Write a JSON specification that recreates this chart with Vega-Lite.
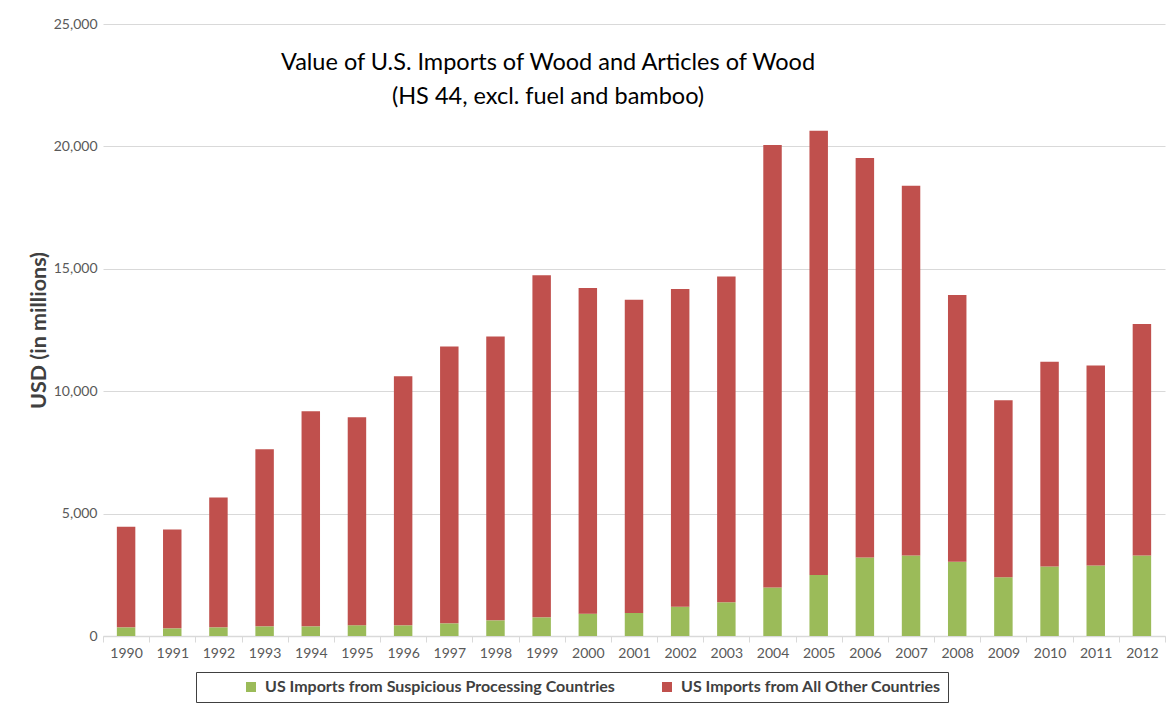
{
  "$schema": "https://vega.github.io/schema/vega-lite/v6.json",
  "width": 1062,
  "height": 612,
  "autosize": "none",
  "padding": {"left": 103, "top": 24, "right": 10, "bottom": 69},
  "background": "white",
  "title": {
    "text": ["Value of U.S. Imports of Wood and Articles of Wood", "(HS 44, excl. fuel and bamboo)"],
    "orient": "top",
    "anchor": "middle",
    "frame": "group",
    "baseline": "top",
    "dx": -86,
    "dy": 95,
    "font": "Lato",
    "fontSize": 23.5,
    "fontWeight": "normal",
    "color": "#000000",
    "lineHeight": 34
  },
  "data": {
    "values": [
      {"year": "1990", "source": "US Imports from Suspicious Processing Countries", "rank": 1, "value": 354},
      {"year": "1990", "source": "US Imports from All Other Countries", "rank": 2, "value": 4106},
      {"year": "1991", "source": "US Imports from Suspicious Processing Countries", "rank": 1, "value": 313},
      {"year": "1991", "source": "US Imports from All Other Countries", "rank": 2, "value": 4042},
      {"year": "1992", "source": "US Imports from Suspicious Processing Countries", "rank": 1, "value": 354},
      {"year": "1992", "source": "US Imports from All Other Countries", "rank": 2, "value": 5306},
      {"year": "1993", "source": "US Imports from Suspicious Processing Countries", "rank": 1, "value": 395},
      {"year": "1993", "source": "US Imports from All Other Countries", "rank": 2, "value": 7230},
      {"year": "1994", "source": "US Imports from Suspicious Processing Countries", "rank": 1, "value": 395},
      {"year": "1994", "source": "US Imports from All Other Countries", "rank": 2, "value": 8785},
      {"year": "1995", "source": "US Imports from Suspicious Processing Countries", "rank": 1, "value": 436},
      {"year": "1995", "source": "US Imports from All Other Countries", "rank": 2, "value": 8499},
      {"year": "1996", "source": "US Imports from Suspicious Processing Countries", "rank": 1, "value": 436},
      {"year": "1996", "source": "US Imports from All Other Countries", "rank": 2, "value": 10174},
      {"year": "1997", "source": "US Imports from Suspicious Processing Countries", "rank": 1, "value": 518},
      {"year": "1997", "source": "US Imports from All Other Countries", "rank": 2, "value": 11307},
      {"year": "1998", "source": "US Imports from Suspicious Processing Countries", "rank": 1, "value": 640},
      {"year": "1998", "source": "US Imports from All Other Countries", "rank": 2, "value": 11590},
      {"year": "1999", "source": "US Imports from Suspicious Processing Countries", "rank": 1, "value": 763},
      {"year": "1999", "source": "US Imports from All Other Countries", "rank": 2, "value": 13977},
      {"year": "2000", "source": "US Imports from Suspicious Processing Countries", "rank": 1, "value": 914},
      {"year": "2000", "source": "US Imports from All Other Countries", "rank": 2, "value": 13306},
      {"year": "2001", "source": "US Imports from Suspicious Processing Countries", "rank": 1, "value": 942},
      {"year": "2001", "source": "US Imports from All Other Countries", "rank": 2, "value": 12798},
      {"year": "2002", "source": "US Imports from Suspicious Processing Countries", "rank": 1, "value": 1195},
      {"year": "2002", "source": "US Imports from All Other Countries", "rank": 2, "value": 12975},
      {"year": "2003", "source": "US Imports from Suspicious Processing Countries", "rank": 1, "value": 1377},
      {"year": "2003", "source": "US Imports from All Other Countries", "rank": 2, "value": 13313},
      {"year": "2004", "source": "US Imports from Suspicious Processing Countries", "rank": 1, "value": 1982},
      {"year": "2004", "source": "US Imports from All Other Countries", "rank": 2, "value": 18078},
      {"year": "2005", "source": "US Imports from Suspicious Processing Countries", "rank": 1, "value": 2488},
      {"year": "2005", "source": "US Imports from All Other Countries", "rank": 2, "value": 18152},
      {"year": "2006", "source": "US Imports from Suspicious Processing Countries", "rank": 1, "value": 3204},
      {"year": "2006", "source": "US Imports from All Other Countries", "rank": 2, "value": 16326},
      {"year": "2007", "source": "US Imports from Suspicious Processing Countries", "rank": 1, "value": 3289},
      {"year": "2007", "source": "US Imports from All Other Countries", "rank": 2, "value": 15101},
      {"year": "2008", "source": "US Imports from Suspicious Processing Countries", "rank": 1, "value": 3036},
      {"year": "2008", "source": "US Imports from All Other Countries", "rank": 2, "value": 10894},
      {"year": "2009", "source": "US Imports from Suspicious Processing Countries", "rank": 1, "value": 2403},
      {"year": "2009", "source": "US Imports from All Other Countries", "rank": 2, "value": 7227},
      {"year": "2010", "source": "US Imports from Suspicious Processing Countries", "rank": 1, "value": 2839},
      {"year": "2010", "source": "US Imports from All Other Countries", "rank": 2, "value": 8366},
      {"year": "2011", "source": "US Imports from Suspicious Processing Countries", "rank": 1, "value": 2881},
      {"year": "2011", "source": "US Imports from All Other Countries", "rank": 2, "value": 8169},
      {"year": "2012", "source": "US Imports from Suspicious Processing Countries", "rank": 1, "value": 3289},
      {"year": "2012", "source": "US Imports from All Other Countries", "rank": 2, "value": 9461}
    ]
  },
  "mark": {"type": "bar", "width": {"band": 0.4}},
  "encoding": {
    "x": {
      "field": "year",
      "type": "ordinal",
      "scale": {"paddingInner": 0, "paddingOuter": 0},
      "axis": {
        "title": null,
        "labelAngle": 0,
        "labelFont": "Lato",
        "labelFontSize": 14,
        "labelColor": "#595959",
        "labelPadding": 4,
        "tickBand": "extent",
        "tickSize": 6,
        "tickColor": "#d9d9d9",
        "domainColor": "#d9d9d9",
        "domainWidth": 1.5,
        "grid": false
      }
    },
    "y": {
      "field": "value",
      "type": "quantitative",
      "stack": "zero",
      "scale": {"domain": [0, 25000], "nice": false},
      "axis": {
        "title": "USD (in millions)",
        "titleFont": "Lato",
        "titleFontSize": 21.5,
        "titleFontWeight": "bold",
        "titleColor": "#404040",
        "titlePadding": 3,
        "values": [0, 5000, 10000, 15000, 20000, 25000],
        "format": ",d",
        "labelFont": "Lato",
        "labelFontSize": 14,
        "labelColor": "#595959",
        "labelPadding": 6,
        "ticks": false,
        "domain": false,
        "grid": true,
        "gridColor": "#d9d9d9",
        "gridWidth": 1.2
      }
    },
    "color": {
      "field": "source",
      "type": "nominal",
      "scale": {
        "domain": ["US Imports from Suspicious Processing Countries", "US Imports from All Other Countries"],
        "range": ["#9BBB59", "#C0504D"]
      },
      "legend": {
        "orient": "none",
        "legendX": 93,
        "legendY": 648,
        "direction": "horizontal",
        "title": " ",
        "titleOrient": "left",
        "titlePadding": 40,
        "titleFontSize": 10,
        "padding": 7,
        "strokeColor": "#404040",
        "symbolType": "square",
        "symbolSize": 100,
        "symbolStrokeWidth": 0,
        "labelFont": "Lato",
        "labelFontSize": 16,
        "labelFontWeight": "bold",
        "labelColor": "#404040",
        "labelLimit": 700,
        "labelOffset": 6,
        "labelExpr": "datum.index == 1 ? datum.label + '\u2003\u2003\u2002' : datum.label",
        "columnPadding": 44
      }
    },
    "order": {"field": "rank", "type": "quantitative"}
  },
  "config": {
    "view": {"stroke": null}
  }
}
